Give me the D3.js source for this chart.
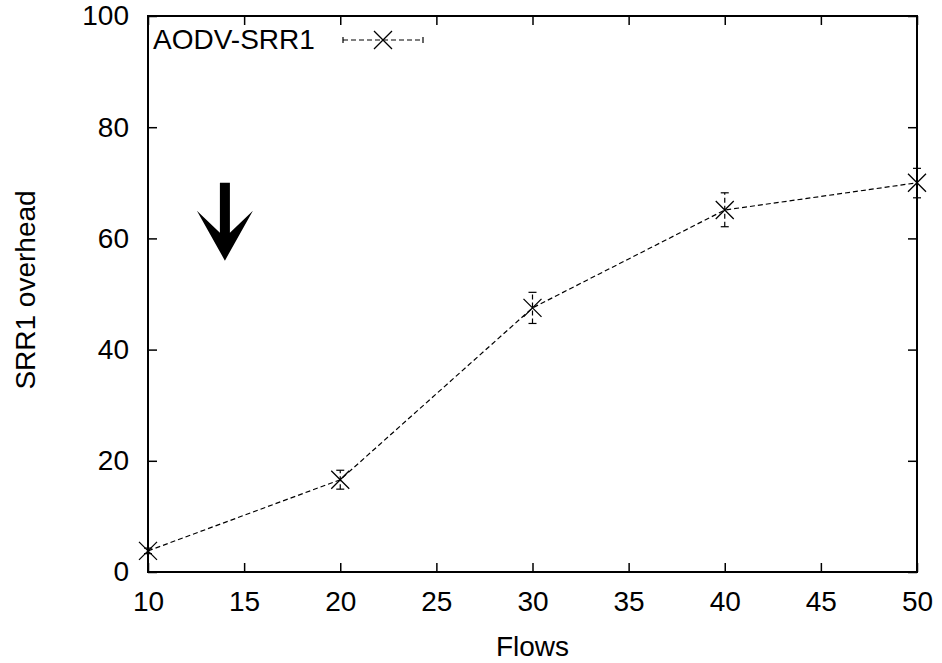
<!DOCTYPE html>
<html><head><meta charset="utf-8">
<script src="https://cdn.jsdelivr.net/npm/d3@7"></script>
<style>body{margin:0;background:#fff}svg{display:block}text{font-family:"Liberation Sans",Arial,sans-serif;fill:#000}</style>
</head><body>
<svg id="c" width="942" height="663"></svg>
<script>
const flows = [10, 20, 30, 40, 50];
const overhead = [3.8, 16.6, 47.5, 65.1, 70.0];
const errLow = [3.3, 14.9, 44.7, 62.1, 67.3];
const errHigh = [4.3, 18.3, 50.3, 68.2, 72.6];
const xTicks = [10, 15, 20, 25, 30, 35, 40, 45, 50];
const yTicks = [0, 20, 40, 60, 80, 100];
const seriesName = "AODV-SRR1";
const arrowFrom = [14, 70], arrowTo = [14, 56];

const L = 148, R = 917, T = 16, B = 572;
const svg = d3.select("#c");
const x = d3.scaleLinear().domain([10, 50]).range([L, R]);
const y = d3.scaleLinear().domain([0, 100]).range([B, T]);
const fs = 28, tl = 9;

// axes (ticks inward, mirrored)
const gB = svg.append("g").attr("transform", `translate(0,${B})`)
  .call(d3.axisBottom(x).tickValues(xTicks).tickSizeInner(-tl).tickSizeOuter(0).tickPadding(19));
const gT = svg.append("g").attr("transform", `translate(0,${T})`)
  .call(d3.axisTop(x).tickValues(xTicks).tickSizeInner(-tl).tickSizeOuter(0).tickFormat(""));
const gL = svg.append("g").attr("transform", `translate(${L},0)`)
  .call(d3.axisLeft(y).tickValues(yTicks).tickSizeInner(-tl).tickSizeOuter(0).tickPadding(19));
const gR = svg.append("g").attr("transform", `translate(${R},0)`)
  .call(d3.axisRight(y).tickValues(yTicks).tickSizeInner(-tl).tickSizeOuter(0).tickFormat(""));
[gB, gT, gL, gR].forEach(g => {
  g.select(".domain").remove();
  g.selectAll(".tick line").attr("stroke", "#000").attr("stroke-width", 1.5);
  g.selectAll("text").attr("font-size", fs).attr("font-family", '"Liberation Sans",Arial,sans-serif').attr("fill", "#000");
});
gB.selectAll("text").attr("dy", "0.71em");
svg.append("rect").attr("x", L).attr("y", T).attr("width", R - L).attr("height", B - T)
  .attr("fill", "none").attr("stroke", "#000").attr("stroke-width", 2);

// axis titles
svg.append("text").attr("x", (L + R) / 2).attr("y", 656).attr("text-anchor", "middle").attr("font-size", fs).text("Flows");
svg.append("text").attr("transform", `translate(35,290) rotate(-90)`).attr("text-anchor", "middle").attr("font-size", fs).text("SRR1 overhead");

const data = flows.map((f, i) => ({ f, v: overhead[i], lo: errLow[i], hi: errHigh[i] }));
const dash = "5,3";
// line
svg.append("path").datum(data).attr("fill", "none").attr("stroke", "#000").attr("stroke-width", 1.2)
  .attr("stroke-dasharray", dash).attr("d", d3.line().x(d => x(d.f)).y(d => y(d.v)));
// error bars
const eb = svg.append("g").attr("stroke", "#000").attr("stroke-width", 1.2);
data.forEach(d => {
  eb.append("line").attr("x1", x(d.f)).attr("x2", x(d.f)).attr("y1", y(d.lo)).attr("y2", y(d.hi)).attr("stroke-dasharray", dash);
  [d.lo, d.hi].forEach(v => eb.append("line").attr("x1", x(d.f) - 4).attr("x2", x(d.f) + 4).attr("y1", y(v)).attr("y2", y(v)));
});
// markers
const ms = 9;
const mk = svg.append("g").attr("stroke", "#000").attr("stroke-width", 1.3);
data.forEach(d => {
  const cx = x(d.f), cy = y(d.v);
  mk.append("path").attr("d", `M${cx - ms},${cy - ms}L${cx + ms},${cy + ms}M${cx - ms},${cy + ms}L${cx + ms},${cy - ms}`);
});

// legend
svg.append("text").attr("x", 153).attr("y", 49).attr("font-size", fs).text(seriesName);
const lx1 = 343, lx2 = 423, ly = 40, lxm = (lx1 + lx2) / 2;
svg.append("line").attr("x1", lx1).attr("x2", lx2).attr("y1", ly).attr("y2", ly).attr("stroke", "#000").attr("stroke-width", 1.2).attr("stroke-dasharray", dash);
[lx1, lx2].forEach(xx => svg.append("line").attr("x1", xx).attr("x2", xx).attr("y1", ly - 3).attr("y2", ly + 3).attr("stroke", "#000").attr("stroke-width", 1.2));
svg.append("path").attr("d", `M${lxm - ms},${ly - ms}L${lxm + ms},${ly + ms}M${lxm - ms},${ly + ms}L${lxm + ms},${ly - ms}`).attr("stroke", "#000").attr("stroke-width", 1.3);

// arrow annotation
const ax = x(arrowFrom[0]), ay0 = y(arrowFrom[1]), ay1 = y(arrowTo[1]);
const hw = 5, wing = 28, headLen = 50, notch = 22;
svg.append("path").attr("fill", "#000").attr("d",
  `M${ax - hw},${ay0}L${ax + hw},${ay0}L${ax + hw},${ay1 - notch - 6}L${ax + wing},${ay1 - headLen}L${ax},${ay1}L${ax - wing},${ay1 - headLen}L${ax - hw},${ay1 - notch - 6}Z`);
</script>
</body></html>
